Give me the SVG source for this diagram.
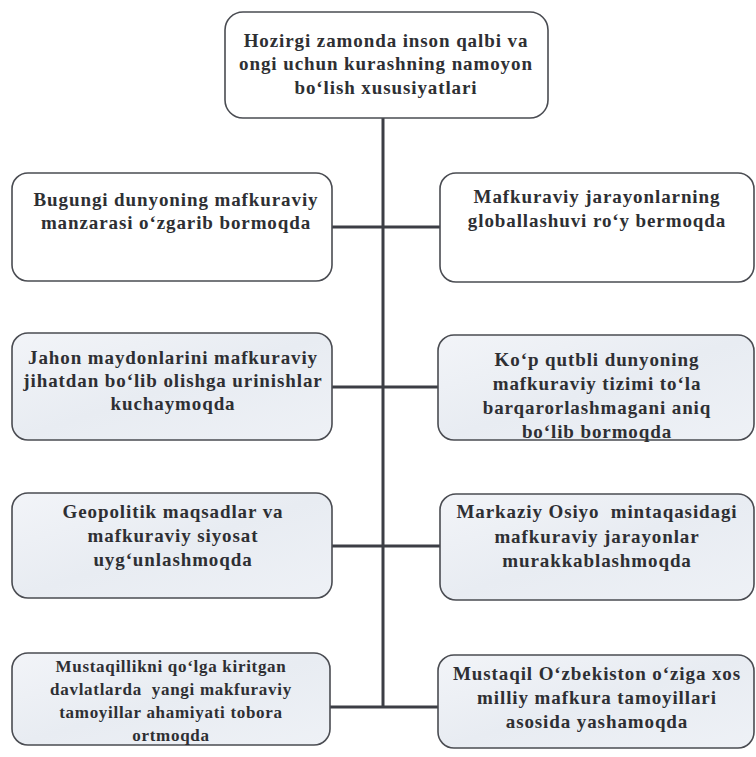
<svg xmlns="http://www.w3.org/2000/svg" width="756" height="757" viewBox="0 0 756 757">
<defs>
<linearGradient id="g" x1="0" y1="0" x2="1" y2="1">
<stop offset="0" stop-color="#f2f4f8"/>
<stop offset="0.5" stop-color="#e8ecf2"/>
<stop offset="1" stop-color="#eef1f6"/>
</linearGradient>
<style>
.box{fill:#ffffff;stroke:#4a4c52;stroke-width:1.6}
.sh{fill:url(#g);stroke:#4a4c52;stroke-width:1.6}
.t{font-family:"Liberation Serif","Times New Roman",serif;font-weight:bold;font-size:19px;fill:#2e2f33;text-anchor:middle;letter-spacing:0.9px;white-space:pre}
.s{font-size:17px;letter-spacing:0.7px}
.c{stroke:#3c3e45;stroke-width:3;fill:none}
</style>
</defs>
<rect width="756" height="757" fill="#ffffff"/>
<g id="connectors">
<line class="c" x1="383" y1="118" x2="383" y2="707"/>
<line class="c" x1="332" y1="227" x2="440" y2="227"/>
<line class="c" x1="332" y1="387" x2="438" y2="387"/>
<line class="c" x1="332" y1="546" x2="440" y2="546"/>
<line class="c" x1="330" y1="707" x2="438" y2="707"/>
</g>
<g id="top">
<rect class="box" x="225" y="12" width="323" height="106" rx="18"/>
<text class="t" x="386" y="47">Hozirgi zamonda inson qalbi va</text>
<text class="t" x="386" y="70">ongi uchun kurashning namoyon</text>
<text class="t" x="386" y="94">bo‘lish xususiyatlari</text>
</g>
<g id="l1">
<rect class="box" x="12" y="173" width="320" height="108" rx="16"/>
<text class="t" x="176" y="206">Bugungi dunyoning mafkuraviy</text>
<text class="t" x="176" y="229">manzarasi o‘zgarib bormoqda</text>
</g>
<g id="r1">
<rect class="box" x="440" y="173" width="314" height="109" rx="16"/>
<text class="t" x="597" y="203">Mafkuraviy jarayonlarning</text>
<text class="t" x="597" y="227">globallashuvi ro‘y bermoqda</text>
</g>
<g id="l2">
<rect class="sh" x="12" y="333" width="320" height="107" rx="16"/>
<text class="t" x="173" y="364">Jahon maydonlarini mafkuraviy</text>
<text class="t" x="173" y="387">jihatdan bo‘lib olishga urinishlar</text>
<text class="t" x="173" y="410">kuchaymoqda</text>
</g>
<g id="r2">
<rect class="sh" x="438" y="335" width="316" height="105" rx="16"/>
<text class="t" x="597" y="366">Ko‘p qutbli dunyoning</text>
<text class="t" x="597" y="390">mafkuraviy tizimi to‘la</text>
<text class="t" x="597" y="414">barqarorlashmagani aniq</text>
<text class="t" x="597" y="438">bo‘lib bormoqda</text>
</g>
<g id="l3">
<rect class="sh" x="12" y="493" width="320" height="105" rx="16"/>
<text class="t" x="173" y="518">Geopolitik maqsadlar va</text>
<text class="t" x="173" y="542">mafkuraviy siyosat</text>
<text class="t" x="173" y="566">uyg‘unlashmoqda</text>
</g>
<g id="r3">
<rect class="sh" x="440" y="494" width="314" height="106" rx="16"/>
<text class="t" x="597" y="518">Markaziy Osiyo  mintaqasidagi</text>
<text class="t" x="597" y="543">mafkuraviy jarayonlar</text>
<text class="t" x="597" y="567">murakkablashmoqda</text>
</g>
<g id="l4">
<rect class="sh" x="12" y="653" width="318" height="92" rx="16"/>
<text class="t s" x="171" y="672">Mustaqillikni qo‘lga kiritgan</text>
<text class="t s" x="171" y="695">davlatlarda  yangi makfuraviy</text>
<text class="t s" x="171" y="718">tamoyillar ahamiyati tobora</text>
<text class="t s" x="171" y="741">ortmoqda</text>
</g>
<g id="r4">
<rect class="sh" x="438" y="655" width="316" height="93" rx="16"/>
<text class="t" x="597" y="680">Mustaqil O‘zbekiston o‘ziga xos</text>
<text class="t" x="597" y="704">milliy mafkura tamoyillari</text>
<text class="t" x="597" y="728">asosida yashamoqda</text>
</g>
</svg>
